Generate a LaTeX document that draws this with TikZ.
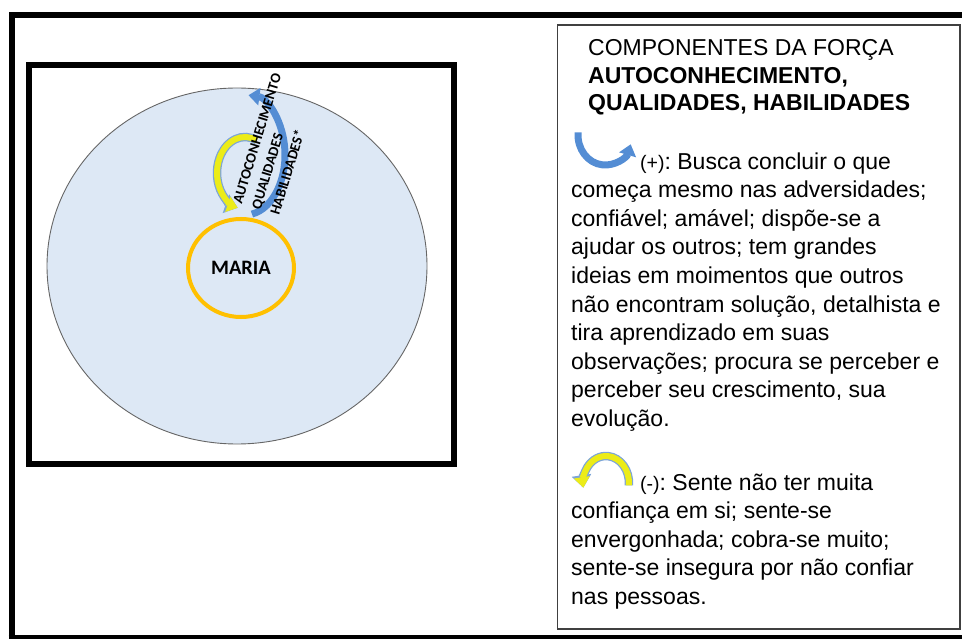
\documentclass[tikz,border=0pt]{standalone}
\usepackage{fontspec}
\setmainfont{Liberation Sans}
\newfontfamily\calibri{Carlito}
\usetikzlibrary{arrows.meta,shapes.geometric}
\frenchspacing

\definecolor{skyfill}{RGB}{221,232,245}
\definecolor{ringorange}{RGB}{255,192,0}
\definecolor{bandblue}{RGB}{84,141,212}
\definecolor{bandyellow}{RGB}{236,236,24}
\definecolor{bandedge}{RGB}{125,165,215}

\begin{document}
\begin{tikzpicture}[x=1pt, y=1pt,
    frame/.style={line width=6pt},
    blueband/.style={bandblue, line width=7pt, -{Triangle[length=11pt,width=17pt]}},
    yellowedge/.style={bandedge, line width=8.5pt, -{Triangle[length=12.5pt,width=19pt]}},
    yellowband/.style={bandyellow, line width=6pt, -{Triangle[length=10.5pt,width=15.5pt]}},
    body/.style={align=left, inner sep=0pt, anchor=base west, font=\fontsize{23}{28.6}\selectfont}]

    \useasboundingbox (0,0) rectangle (962,641);
    \clip (0,0) rectangle (962,641);

    % outer frame, its right side is off the page
    \draw[frame] (975,625.5) -- (11.5,625.5) -- (11.5,2);
    \draw[line width=3.5pt] (8.5,4) -- (975,4);

    % left square with the circle
    \draw[frame] (28.5,177) rectangle (453.5,576);
    \draw[gray!80!black, fill=skyfill, line width=0.9pt] (237,375) ellipse [x radius=190, y radius=178];
    \node[ellipse, draw=ringorange, line width=4pt, minimum width=106pt, minimum height=98pt,
          inner sep=0pt, font=\calibri\bfseries\fontsize{20.5}{20.5}\selectfont] (maria) at (241,373) {MARIA};

    \draw[yellowedge] (245,468) ++(65:28 and 36) arc[start angle=65, end angle=255, x radius=28, y radius=36];
    \draw[yellowband] (245,468) ++(65:28 and 36) arc[start angle=65, end angle=255, x radius=28, y radius=36];
    \draw[blueband] (245,486) ++(280:40 and 60) arc[start angle=280, end angle=445, x radius=40, y radius=60];

    \node[rotate=73, anchor=west, align=left, inner sep=0pt,
          font=\calibri\bfseries\fontsize{14.5}{19.5}\selectfont] (forca) at (256,432)
          {AUTOCONHECIMENTO\\QUALIDADES\\HABILIDADES*};

    % right text box (anchored at the baseline of the last line)
    \draw[black!75, line width=1.2pt] (557.5,12) rectangle (960,616);
    \node[body, font=\fontsize{23}{27.5}\selectfont] (title) at (588,530)
          {COMPONENTES DA FORÇA\\\textbf{AUTOCONHECIMENTO,}\\\textbf{QUALIDADES, HABILIDADES}};

    \draw[blueband] (605,506) ++(175:27 and 30) arc[start angle=175, end angle=342, x radius=27, y radius=30];
    \node[body] (plus) at (571,214.6)
          {\hspace*{69pt}\scalebox{0.85}{(+)}: Busca concluir o que\\
           começa mesmo nas adversidades;\\
           confiável; amável; dispõe-se a\\
           ajudar os outros; tem grandes\\
           ideias em moimentos que outros\\
           não encontram solução, detalhista e\\
           tira aprendizado em suas\\
           observações; procura se perceber e\\
           perceber seu crescimento, sua\\
           evolução.};

    \draw[yellowedge] (606,158) ++(-5:23 and 27) arc[start angle=-5, end angle=190, x radius=23, y radius=27];
    \draw[yellowband] (606,158) ++(-5:23 and 27) arc[start angle=-5, end angle=190, x radius=23, y radius=27];
    \node[body] (minus) at (571,36.6)
          {\hspace*{69pt}\scalebox{0.85}{(-)}: Sente não ter muita\\
           confiança em si; sente-se\\
           envergonhada; cobra-se muito;\\
           sente-se insegura por não confiar\\
           nas pessoas.};
\end{tikzpicture}
\end{document}
